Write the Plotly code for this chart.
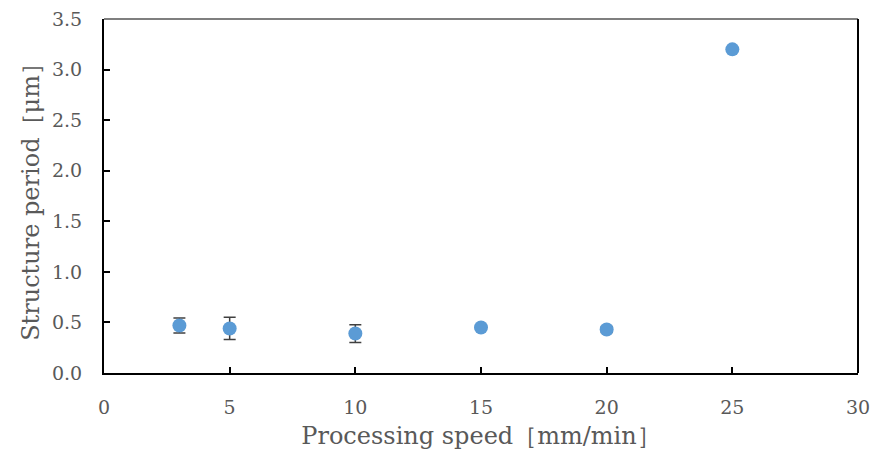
import plotly.graph_objects as go

speed = [3, 5, 10, 15, 20, 25]
period = [0.47, 0.44, 0.39, 0.45, 0.43, 3.20]
err = [0.075, 0.11, 0.088, 0.02, 0.03, 0.0]
x_ticks = [0, 5, 10, 15, 20, 25, 30]
y_ticks = [0.0, 0.5, 1.0, 1.5, 2.0, 2.5, 3.0, 3.5]

font_fam = "DejaVu Serif"
gray = "#595959"

fig = go.Figure()
fig.add_trace(go.Scatter(
    x=speed, y=period, mode="markers",
    marker=dict(size=14, color="#5B9BD5"),
    error_y=dict(type="data", array=err, visible=True, color="#404040", thickness=1.5, width=6),
    showlegend=False,
))

fig.update_layout(
    width=875, height=464,
    margin=dict(l=104, r=17, t=19, b=91),
    paper_bgcolor="white", plot_bgcolor="white",
    font=dict(family=font_fam, color=gray, size=19),
    xaxis=dict(
        range=[0, 30], tickvals=x_ticks, ticktext=[str(v) for v in x_ticks],
        showgrid=False, zeroline=False, showline=True, linecolor="black", linewidth=2,
        ticks="inside", ticklen=6, tickcolor="black", tickwidth=2,
        ticklabelstandoff=16, automargin=False,
        title=dict(text="Processing speed［mm/min］", font=dict(size=24, color=gray), standoff=10),
    ),
    yaxis=dict(
        range=[0, 3.5], tickvals=y_ticks, ticktext=[f"{v:.1f}" for v in y_ticks],
        showgrid=False, zeroline=False, showline=True, linecolor="black", linewidth=2,
        ticks="inside", ticklen=6, tickcolor="black", tickwidth=2,
        ticklabelstandoff=16, automargin=False,
        title=dict(text="Structure period［μm］", font=dict(size=24, color=gray), standoff=6),
    ),
)
fig.add_shape(type="line", xref="paper", yref="paper", x0=0, x1=1, y0=1, y1=1,
              line=dict(color="#7f7f7f", width=2))
fig.add_shape(type="line", xref="paper", yref="paper", x0=1, x1=1, y0=0, y1=1,
              line=dict(color="black", width=2))

fig.write_html("out.html")
